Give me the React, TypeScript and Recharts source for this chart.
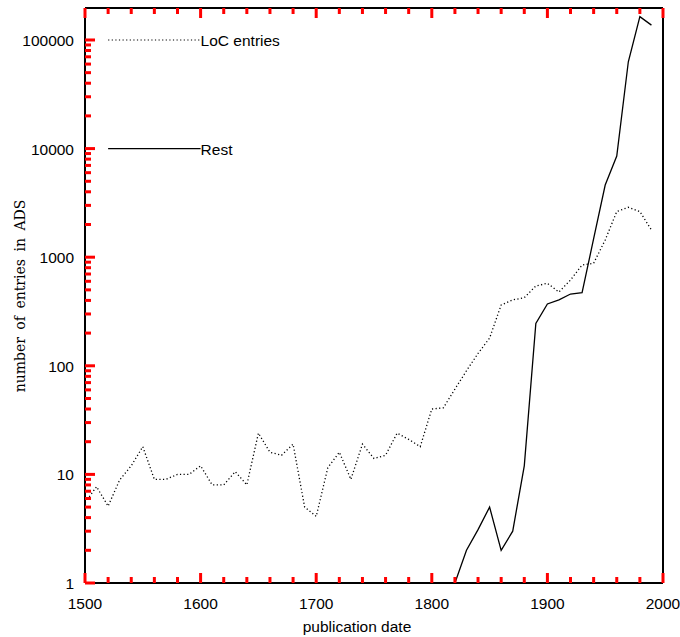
import {
  LineChart,
  Line,
  XAxis,
  YAxis,
  ReferenceLine,
} from "recharts";

// decades sampled in the plot
const years = [
  1500, 1510, 1520, 1530, 1540, 1550, 1560, 1570, 1580, 1590,
  1600, 1610, 1620, 1630, 1640, 1650, 1660, 1670, 1680, 1690,
  1700, 1710, 1720, 1730, 1740, 1750, 1760, 1770, 1780, 1790,
  1800, 1810, 1820, 1830, 1840, 1850, 1860, 1870, 1880, 1890,
  1900, 1910, 1920, 1930, 1940, 1950, 1960, 1970, 1980, 1990,
];

const locEntries = [
  5.5, 7.7, 5.1, 8.9, 12, 18, 9, 9, 10, 10,
  12, 8, 8, 10.6, 8, 24, 16, 15, 19, 5,
  4.1, 11.5, 16, 9, 19, 14, 15, 24, 21, 18,
  40, 41, 61, 90, 130, 180, 363, 404, 424, 543,
  575, 478, 617, 847, 879, 1440, 2630, 2880, 2630, 1780,
];

const restEntries: (number | null)[] = [
  null, null, null, null, null, null, null, null, null, null,
  null, null, null, null, null, null, null, null, null, null,
  null, null, null, null, null, null, null, null, null, null,
  null, null, 1, 2, 3.1, 5, 2, 3, 12, 246,
  371, 404, 458, 471, 1480, 4620, 8550, 63000, 164000, 137000,
];

const xMajorTicks = [1500, 1600, 1700, 1800, 1900, 2000];
const xTicks = [
  1500, 1520, 1540, 1560, 1580, 1600, 1620, 1640, 1660, 1680, 1700,
  1720, 1740, 1760, 1780, 1800, 1820, 1840, 1860, 1880, 1900,
  1920, 1940, 1960, 1980, 2000,
];
const yMajorTicks = [1, 10, 100, 1000, 10000, 100000];
const yTicks = yMajorTicks.flatMap((d) =>
  d === 100000 ? [d] : [1, 2, 3, 4, 5, 6, 7, 8, 9].map((m) => m * d)
);

const data = years.map((year, i) => ({
  year,
  loc: locEntries[i],
  rest: restEntries[i],
}));

const FONT = "'Liberation Sans', Arial, Helvetica, sans-serif";

// plot box edges (page coords)
const LEFT = 85;
const RIGHT = 663;
const TOP = 8;
const BOTTOM = 583;

const makeXTick = (isTop: boolean) => (props: any) => {
  const { x, payload } = props;
  const major = xMajorTicks.includes(payload.value);
  const len = major ? 10 : 6;
  const y = isTop ? TOP : BOTTOM;
  return (
    <g>
      <line x1={x} x2={x} y1={y} y2={isTop ? y + len : y - len} stroke="red" strokeWidth={3} />
      {!isTop && major && (
        <text x={x} y={y + 26} textAnchor="middle" fontSize={15.5} fontFamily={FONT} fill="#000">
          {payload.value}
        </text>
      )}
    </g>
  );
};

const makeYTick = (isRight: boolean) => (props: any) => {
  const { y, payload } = props;
  const major = yMajorTicks.includes(payload.value);
  const len = major ? 10 : 6;
  const x = isRight ? RIGHT : LEFT;
  return (
    <g>
      <line x1={x} x2={isRight ? x - len : x + len} y1={y} y2={y} stroke="red" strokeWidth={3} />
      {!isRight && major && (
        <text x={x - 11} y={y + 6} textAnchor="end" fontSize={15.5} fontFamily={FONT} fill="#000">
          {payload.value}
        </text>
      )}
    </g>
  );
};

const legendLabel = (text: string) => (props: any) => {
  const vb = props.viewBox || {};
  return (
    <text x={vb.x + vb.width} y={vb.y + 6} fontSize={15.5} fontFamily={FONT} fill="#000">
      {text}
    </text>
  );
};

const axisLine = { stroke: "#000", strokeWidth: 2 };

export default function App() {
  return (
    <div style={{ position: "absolute", left: 0, top: 0, width: 680, height: 637, background: "#fff" }}>
      <LineChart
        width={680}
        height={637}
        data={data}
        margin={{ top: TOP - 1, right: 680 - RIGHT - 1, bottom: 637 - BOTTOM - 1, left: LEFT - 1 }}
      >
        <XAxis
          xAxisId="b"
          dataKey="year"
          type="number"
          domain={[1500, 2000]}
          ticks={xTicks}
          interval={0}
          height={1}
          tickSize={0}
          tickMargin={0}
          tickLine={false}
          axisLine={axisLine}
          tick={makeXTick(false)}
        />
        <XAxis
          xAxisId="t"
          orientation="top"
          dataKey="year"
          type="number"
          domain={[1500, 2000]}
          ticks={xTicks}
          interval={0}
          height={1}
          tickSize={0}
          tickMargin={0}
          tickLine={false}
          axisLine={axisLine}
          tick={makeXTick(true)}
        />
        <YAxis
          yAxisId="l"
          type="number"
          scale="log"
          domain={[1, 197000]}
          ticks={yTicks}
          interval={0}
          width={1}
          tickSize={0}
          tickMargin={0}
          tickLine={false}
          axisLine={axisLine}
          tick={makeYTick(false)}
        />
        <YAxis
          yAxisId="r"
          orientation="right"
          type="number"
          scale="log"
          domain={[1, 197000]}
          ticks={yTicks}
          interval={0}
          width={1}
          tickSize={0}
          tickMargin={0}
          tickLine={false}
          axisLine={axisLine}
          tick={makeYTick(true)}
        />
        <ReferenceLine
          xAxisId="b"
          yAxisId="l"
          segment={[{ x: 1520, y: 100000 }, { x: 1600, y: 100000 }]}
          stroke="#000"
          strokeWidth={1.2}
          strokeDasharray="1.2 2.4"
          label={legendLabel("LoC entries")}
        />
        <ReferenceLine
          xAxisId="b"
          yAxisId="l"
          segment={[{ x: 1520, y: 10000 }, { x: 1600, y: 10000 }]}
          stroke="#000"
          strokeWidth={1.2}
          label={legendLabel("Rest")}
        />
        <Line
          xAxisId="b"
          yAxisId="l"
          type="linear"
          dataKey="loc"
          stroke="#000"
          strokeWidth={1.3}
          strokeDasharray="1.2 2.4"
          dot={false}
          isAnimationActive={false}
        />
        <Line
          xAxisId="b"
          yAxisId="l"
          type="linear"
          dataKey="rest"
          stroke="#000"
          strokeWidth={1.3}
          dot={false}
          isAnimationActive={false}
        />
      </LineChart>
      <svg
        width={680}
        height={637}
        style={{ position: "absolute", left: 0, top: 0, pointerEvents: "none" }}
      >
        <text x={357} y={632} textAnchor="middle" fontSize={15.5} fontFamily={FONT} fill="#000">
          publication date
        </text>
        <text
          transform="translate(24.5, 296) rotate(-90)"
          textAnchor="middle"
          fontSize={14}
          fontFamily="'DejaVu Serif', 'Liberation Serif', serif"
          wordSpacing={3}
          fill="#000"
        >
          number of entries in ADS
        </text>
      </svg>
    </div>
  );
}
